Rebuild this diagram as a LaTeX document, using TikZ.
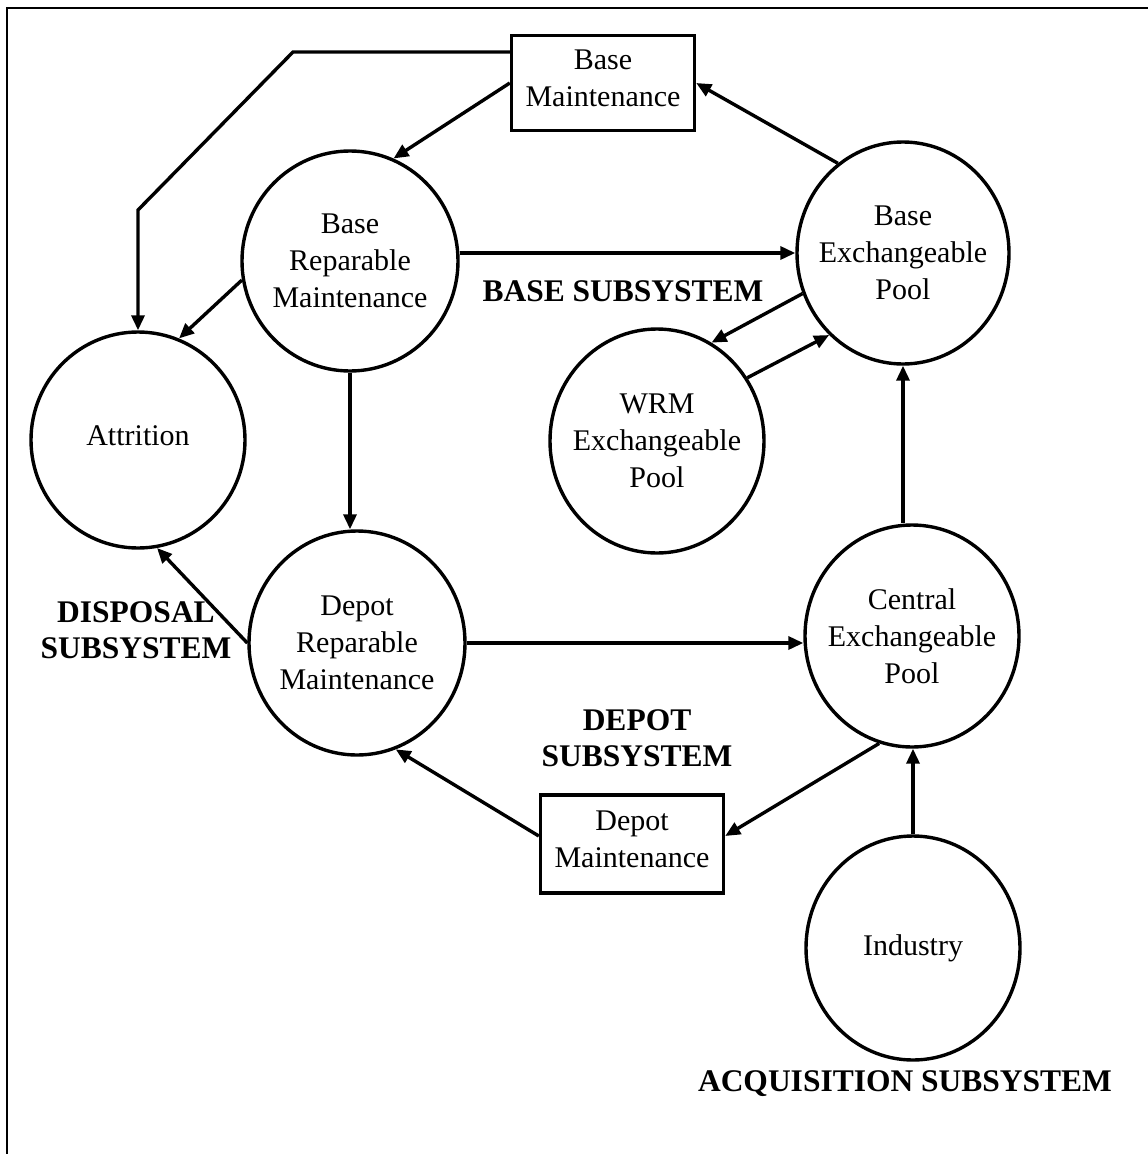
\documentclass[tikz,border=0pt]{standalone}
\usepackage{fontspec}
\setmainfont{Liberation Serif}
\usetikzlibrary{arrows.meta,shapes.geometric,calc}
\begin{document}
\begin{tikzpicture}[x=1pt,y=-1pt,
  txt/.style={font=\fontsize{30}{37}\selectfont, align=center, inner sep=0pt},
  lbl/.style={font=\fontsize{31.5}{36}\selectfont\bfseries, align=center, inner sep=0pt},
  circ/.style={draw, ellipse, line width=3.4pt, inner sep=0pt},
  boxn/.style={draw, rectangle, line width=3.4pt, inner sep=0pt, minimum width=183pt},
  conn/.style={line width=3.4pt, -{Triangle[length=15pt,width=13pt]}},
  frame/.style={line width=2.6pt}]
\useasboundingbox (0,0) rectangle (1148,1154);
\coordinate (fbl) at (7,1160);
\coordinate (ftl) at (7,8);
\coordinate (ftr) at (1160,8);
\draw[frame] (fbl) -- (ftl) -- (ftr);

% shapes
\node[boxn, minimum height=95pt] (bm) at (603,83) {};
\node[txt] (bmT) at ($(bm)+(0,-5)$) {Base\\Maintenance};
\node[circ, minimum width=216pt, minimum height=220pt] (brm) at (350,261) {};
\node[txt] (brmT) at (brm) {Base\\Reparable\\Maintenance};
\node[circ, minimum width=212pt, minimum height=222pt] (bep) at (903,253) {};
\node[txt] (bepT) at (bep) {Base\\Exchangeable\\Pool};
\node[circ, minimum width=214pt, minimum height=224pt] (wrm) at (657,441) {};
\node[txt] (wrmT) at (wrm) {WRM\\Exchangeable\\Pool};
\node[circ, minimum width=214pt, minimum height=216pt] (att) at (138,440) {};
\node[txt] (attT) at ($(att)+(0,-4)$) {Attrition};
\node[circ, minimum width=216pt, minimum height=224pt] (drm) at (357,643) {};
\node[txt] (drmT) at (drm) {Depot\\Reparable\\Maintenance};
\node[circ, minimum width=214pt, minimum height=222pt] (cep) at (912,636) {};
\node[txt] (cepT) at (cep) {Central\\Exchangeable\\Pool};
\node[boxn, minimum height=98pt] (dbox) at (632,844) {};
\node[txt] (dboxT) at ($(dbox)+(0,-5)$) {Depot\\Maintenance};
\node[circ, minimum width=214pt, minimum height=224pt] (ind) at (913,948) {};
\node[txt] (indT) at (ind) {Industry};

% labels
\node[lbl] (lbase) at (623,291) {BASE SUBSYSTEM};
\node[lbl] (ldisp) at (136,630) {DISPOSAL\\SUBSYSTEM};
\node[lbl] (ldepot) at (637,738) {DEPOT\\SUBSYSTEM};
\node[lbl] (lacq) at (905,1084) {ACQUISITION SUBSYSTEM};

% connectors
\coordinate (p1) at (293,52);
\coordinate (p2) at (138,210);
\draw[conn] ($(bm.west)+(0,-31)$) -- (p1) -- (p2) -- (att.north);
\draw[conn] (bm.west) -- (brm.67);
\draw[conn] (bep.126) -- (bm.east);
\draw[conn] (bep.west -| brm.east) -- (bep.west);
\draw[conn] (brm.190) -- (att.68);
\draw[conn] (brm.south) -- (brm.south |- drm.north);
\draw[conn] (bep.202) -- (wrm.61);
\draw[conn] (wrm.35) -- (bep.228);
\draw[conn] (cep.north -| bep.south) -- (bep.south);
\draw[conn] (drm.west) -- (att.280);
\draw[conn] (drm.east) -- (cep.west |- drm.east);
\draw[conn] ($(dbox.west)+(0,-8)$) -- (drm.290);
\draw[conn] (cep.253) -- ($(dbox.east)+(0,-8)$);
\draw[conn] (ind.north) -- (ind.north |- cep.south);
\end{tikzpicture}
\end{document}
